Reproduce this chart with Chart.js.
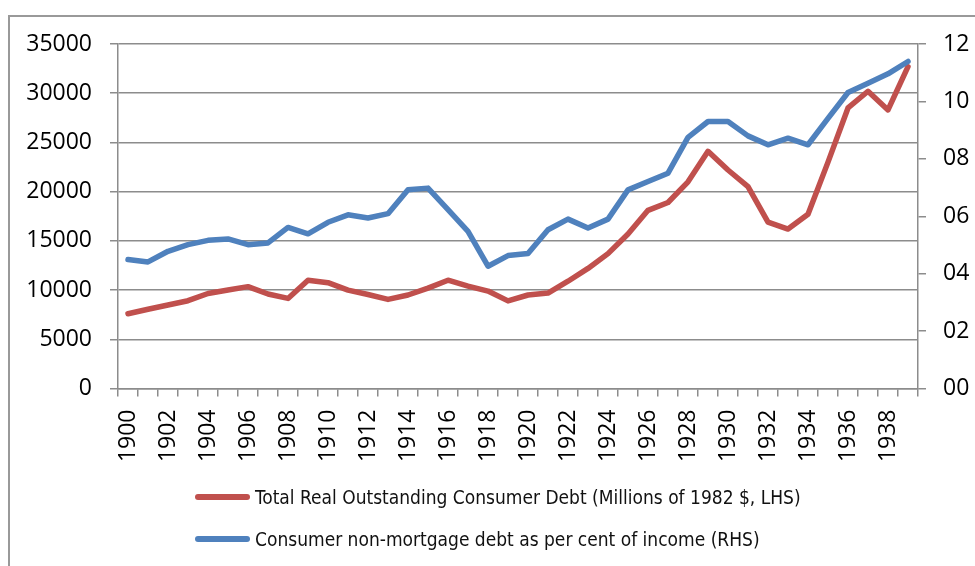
<!DOCTYPE html>
<html>
<head>
<meta charset="utf-8">
<script src="https://cdn.jsdelivr.net/npm/chart.js@4/dist/chart.umd.min.js"></script>
<style>
  html, body { margin: 0; padding: 0; background: #fff; }
  #wrap { position: relative; width: 975px; height: 566px; overflow: hidden; }
  #frame { position: absolute; left: 8px; top: 15px; width: 1000px; height: 600px;
           border-top: 2px solid #999; border-left: 2px solid #999; pointer-events: none; }
  #legend { position: absolute; left: 195px; top: 484px; font-family: "Liberation Sans Narrow", "DejaVu Sans Condensed", sans-serif;
            font-size: 19px; color: #111; }
  .row { display: flex; align-items: center; height: 26px; margin-bottom: 16px; }
  .sw { width: 55px; height: 6px; border-radius: 3px; margin-right: 5px; }
</style>
</head>
<body>
<div id="wrap">
  <canvas id="chart" width="975" height="566"></canvas>
  <div id="frame"></div>
  <div id="legend"></div>
</div>
<script>
// years on the x axis
const years = ["1900","1901","1902","1903","1904","1905","1906","1907","1908","1909",
               "1910","1911","1912","1913","1914","1915","1916","1917","1918","1919",
               "1920","1921","1922","1923","1924","1925","1926","1927","1928","1929",
               "1930","1931","1932","1933","1934","1935","1936","1937","1938","1939"];

// total real outstanding consumer debt, millions of 1982 $ (left axis)
const realDebt = [7600, 8050, 8480, 8920, 9650, 10000, 10350, 9600, 9150, 11000,
                  10750, 10000, 9550, 9050, 9500, 10200, 11000, 10400, 9900, 8900,
                  9500, 9700, 10900, 12200, 13700, 15700, 18100, 18900, 21000, 24100,
                  22200, 20500, 16900, 16200, 17700, 23000, 28500, 30200, 28300, 32700];

// consumer non-mortgage debt as share of income (right axis)
const debtShare = [0.0449, 0.0441, 0.0478, 0.0501, 0.0516, 0.0521, 0.0501, 0.0507, 0.0561, 0.0539,
                   0.0579, 0.0605, 0.0594, 0.0609, 0.0692, 0.0698, 0.0623, 0.0547, 0.0426, 0.0463,
                   0.0470, 0.0553, 0.0590, 0.0559, 0.0590, 0.0692, 0.0721, 0.0750, 0.0875, 0.0930,
                   0.0930, 0.0880, 0.0849, 0.0872, 0.0849, 0.0941, 0.1031, 0.1063, 0.1096, 0.1139];

const seriesNames = ["Total Real Outstanding Consumer Debt (Millions of 1982 $, LHS)",
                     "Consumer non-mortgage debt as per cent of income (RHS)"];
const seriesColors = ["#c0504d", "#4f81bd"];

const gridColor = "#8c8c8c";
const tickFont = { family: "'Open Sans', sans-serif", size: 23 };

new Chart(document.getElementById("chart"), {
    type: "line",
    data: {
        labels: years,
        datasets: [
            { label: seriesNames[0], data: realDebt, yAxisID: "y", borderColor: seriesColors[0], order: 1 },
            { label: seriesNames[1], data: debtShare, yAxisID: "y2", borderColor: seriesColors[1], order: 0 }
        ]
    },
    options: {
        responsive: false,
        animation: false,
        layout: { padding: { top: 44, left: 0, right: 0, bottom: 0 } },
        elements: {
            line: { borderWidth: 5.5, tension: 0, borderJoinStyle: "round", borderCapStyle: "round" },
            point: { radius: 0 }
        },
        plugins: { legend: { display: false }, tooltip: { enabled: false } },
        scales: {
            x: {
                offset: true,
                grid: { offset: true, drawOnChartArea: false, color: gridColor, lineWidth: 1.5, tickLength: 8 },
                border: { color: gridColor, width: 1.5 },
                ticks: {
                    autoSkip: false, maxRotation: 90, minRotation: 90, padding: 13,
                    color: "#000", font: tickFont,
                    callback: (v, i) => i % 2 === 0 ? years[i] : ""
                },
                afterFit: s => { s.height = 177.5; }
            },
            y: {
                position: "left", min: 0, max: 35000,
                ticks: { stepSize: 5000, padding: 18, color: "#000", font: tickFont, callback: v => String(v) },
                grid: { color: gridColor, lineWidth: 1.5, tickLength: 8 },
                border: { color: gridColor, width: 1.5 },
                afterFit: s => { s.width = 118; }
            },
            y2: {
                position: "right", min: 0, max: 0.12,
                ticks: {
                    stepSize: 0.02, padding: 17, color: "#000", font: tickFont,
                    callback: v => String(Math.round(v * 100)).padStart(2, "0")
                },
                grid: { drawOnChartArea: false, color: gridColor, lineWidth: 1.5, tickLength: 8 },
                border: { color: gridColor, width: 1.5 },
                afterFit: s => { s.width = 57; }
            }
        }
    }
});

// legend in two stacked rows, like the original
const legend = document.getElementById("legend");
seriesNames.forEach((name, i) => {
    const row = document.createElement("div");
    row.className = "row";
    row.innerHTML = '<div class="sw" style="background:' + seriesColors[i] + '"></div><span>' + name + '</span>';
    legend.appendChild(row);
});
</script>
</body>
</html>
